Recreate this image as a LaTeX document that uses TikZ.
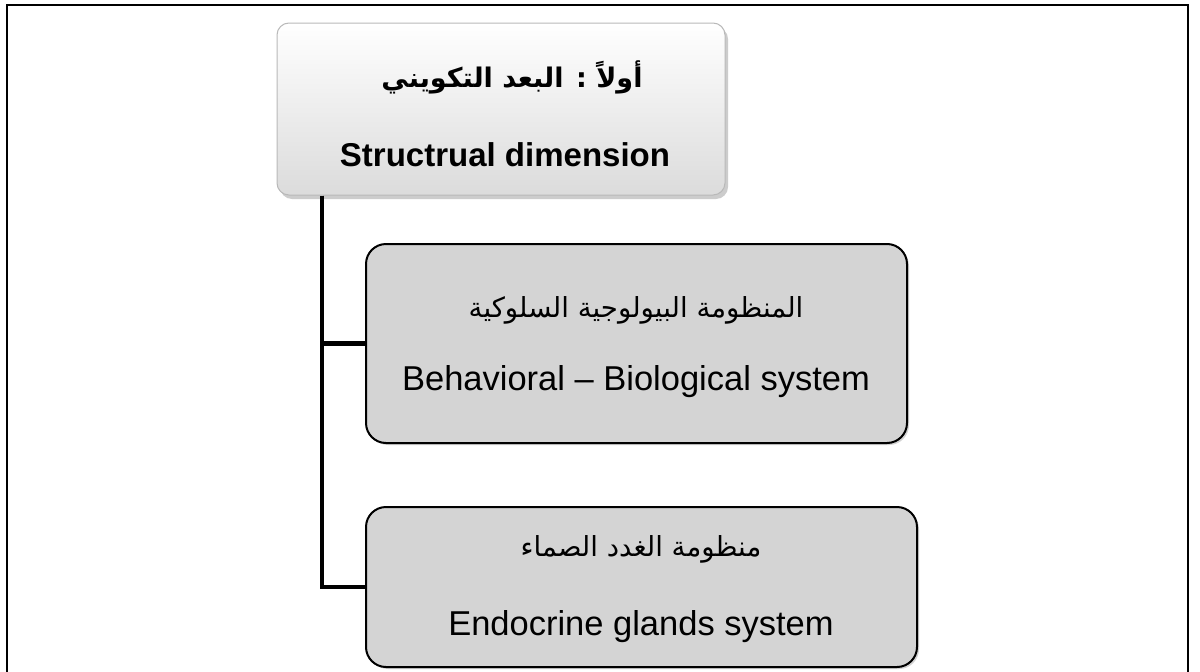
\documentclass[tikz,border=0pt]{standalone}
\usepackage{fontspec}
\setmainfont{Liberation Sans}
\newfontfamily\arabicfont[Script=Arabic]{DejaVu Sans}
\TeXXeTstate=1
\usetikzlibrary{shadows,calc}
\begin{document}
\begin{tikzpicture}[x=1pt,y=-1pt,
  frameline/.style={line width=2.5pt,black},
  conn/.style={line width=4.5pt,black},
  topbox/.style={rounded corners=12pt,draw=gray!55,line width=1pt,
    top color=white,bottom color=gray!28,
    drop shadow={shadow xshift=3pt,shadow yshift=-4pt,opacity=0.4,fill=gray},
    minimum width=448pt,minimum height=172pt,inner sep=0pt},
  subbox/.style={rounded corners=20pt,draw=black,line width=2pt,
    fill={rgb,255:red,212;green,212;blue,212},
    drop shadow={shadow xshift=2pt,shadow yshift=-2pt,opacity=0.35,fill=gray},
    inner sep=0pt},
  entxt/.style={font=\fontsize{34.5}{40}\selectfont,inner sep=0pt},
  entxtb/.style={font=\fontsize{33}{38}\selectfont\bfseries,inner sep=0pt},
  artxt/.style={font=\fontsize{27.6}{34}\arabicfont,inner sep=0pt},
  artxtb/.style={font=\fontsize{27}{34}\arabicfont\bfseries,inner sep=0pt}
]
\useasboundingbox (0,0) rectangle (1200,672);
\fill[white] (0,0) rectangle (1200,672);
% outer frame (open at the bottom)
\draw[frameline] (7,672) -- (7,5) -- (1188,5) -- (1188,672);

% boxes
\node[topbox] (top) at (501,109) {};
\node[subbox,minimum width=541pt,minimum height=199pt] (mid) at (636.5,343.5) {};
\node[subbox,minimum width=551pt,minimum height=160pt] (bot) at (641.5,587) {};

% connectors
\coordinate (trunk) at ($(top.south west)+(45.5,0)$);
\draw[conn] (trunk) |- (mid.west);
\draw[conn] (trunk) |- (bot.west);

% texts
\node[artxtb] (topar) at (512,77) {\beginR أولاً : البعد التكويني\endR};
\node[entxtb] (topen) at (505,155) {Structrual dimension};
\node[artxt] (midar) at (636,310) {\beginR المنظومة البيولوجية السلوكية\endR};
\node[entxt] (miden) at (636,382) {Behavioral -- Biological system};
\node[artxt] (botar) at (641,549) {\beginR منظومة الغدد الصماء\endR};
\node[entxt] (boten) at (641,627) {Endocrine glands system};
\end{tikzpicture}
\end{document}
